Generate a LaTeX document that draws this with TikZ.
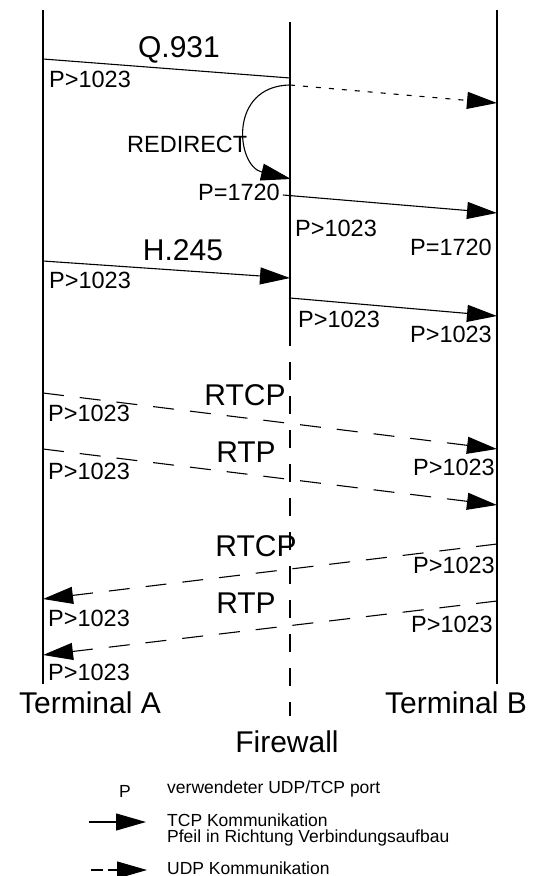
\documentclass[tikz,border=0pt]{standalone}
\usepackage{fontspec}
\setmainfont{Liberation Sans}
\usetikzlibrary{arrows.meta}

\newcommand{\biglbl}{\fontsize{30}{36}\selectfont}
\newcommand{\portlbl}{\fontsize{23.5}{28}\selectfont}
\newcommand{\leglbl}{\fontsize{17.5}{20}\selectfont}

\tikzset{
  lifeline/.style={line width=1.4pt},
  plainline/.style={line width=1.1pt},
  tcp/.style={plainline,-{Triangle[length=30pt,width=17pt]}},
  udp/.style={tcp,dash pattern=on 21pt off 16pt},
  setup/.style={tcp,dash pattern=on 5pt off 8pt},
  biglabel/.style={inner sep=0pt,font=\biglbl},
  portlabel/.style={inner sep=0pt,font=\portlbl},
  leglabel/.style={inner sep=0pt,font=\leglbl}
}

\begin{document}
\begin{tikzpicture}[x=1pt,y=-1pt]
    \useasboundingbox (0,0) rectangle (534,876);

    % lifelines
    \coordinate (Atop) at (43,10);   \coordinate (Abot) at (43,684);
    \coordinate (Btop) at (497,10);  \coordinate (Bbot) at (497,684);
    \coordinate (Ftop) at (290,22);  \coordinate (Fmid) at (290,328);
    \coordinate (Fbot) at (290,716);
    \draw[lifeline] (Atop) -- (Abot);
    \draw[lifeline] (Btop) -- (Bbot);
    \draw[lifeline] (Ftop) -- (Fmid);
    \draw[lifeline,dash pattern=on 18pt off 16pt] (Fmid) -- (Fbot);

    % Q.931 with redirect
    \coordinate (q1) at (43,59);   \coordinate (q2) at (290,78);
    \coordinate (r1) at (290,85);  \coordinate (r2) at (291,179);
    \coordinate (s1) at (290,85);  \coordinate (s2) at (497,103);
    \coordinate (c1) at (283,195); \coordinate (c2) at (497,213);
    \draw[plainline] (q1) -- (q2);
    \draw[tcp] (r1) .. controls (228,86) and (236,166) .. (r2);
    \draw[setup] (s1) -- (s2);
    \draw[tcp] (c1) -- (c2);

    % H.245
    \coordinate (h1) at (43,261);  \coordinate (h2) at (290,278);
    \coordinate (h3) at (290,298); \coordinate (h4) at (497,316);
    \draw[tcp] (h1) -- (h2);
    \draw[tcp] (h3) -- (h4);

    % RTCP / RTP, A to B and B to A
    \foreach \ya/\yb [count=\i] in {393/449,449/505} {
        \coordinate (ua\i) at (43,\ya);
        \coordinate (ub\i) at (497,\yb);
        \draw[udp] (ua\i) -- (ub\i);
      }
    \foreach \yb/\ya [count=\i] in {544/599,601/655} {
        \coordinate (vb\i) at (497,\yb);
        \coordinate (va\i) at (43,\ya);
        \draw[udp] (vb\i) -- (va\i);
      }

    % protocol labels
    \node[biglabel,anchor=base] (lq931) at (179,57) {Q.931};
    \node[biglabel,anchor=base] (lh245) at (183,260) {H.245};
    \node[biglabel,anchor=base] (lrtcpa) at (245,405) {RTCP};
    \node[biglabel,anchor=base] (lrtpa) at (246,462) {RTP};
    \node[biglabel,anchor=base] (lrtcpb) at (256,556) {RTCP};
    \node[biglabel,anchor=base] (lrtpb) at (246,613) {RTP};
    \node[portlabel,anchor=base west] (lredir) at (127,152) {REDIRECT};

    % port labels
    \foreach \x/\y [count=\i] in {49/87,295/236,49/288,298/327,48/421,48/479,48/626,48/680} {
        \node[portlabel,anchor=base west] (pw\i) at (\x,\y) {P>1023};
      }
    \foreach \x/\y [count=\i] in {492/342,495/475,495/573,493/632} {
        \node[portlabel,anchor=base east] (pe\i) at (\x,\y) {P>1023};
      }
    \node[portlabel,anchor=base east] (pfa) at (280,200) {P=1720};
    \node[portlabel,anchor=base east] (pfb) at (492,255) {P=1720};

    % parties
    \node[biglabel,anchor=base] (termA) at (90,713) {Terminal A};
    \node[biglabel,anchor=base] (termB) at (456,713) {Terminal B};
    \node[biglabel,anchor=base] (fw) at (287,752) {Firewall};

    % legend
    \node[leglabel,anchor=base] (legp) at (125,797) {P};
    \node[leglabel,anchor=base west] (legport) at (167,793) {verwendeter UDP/TCP port};
    \node[leglabel,anchor=base west] (legtcp) at (167,826) {TCP Kommunikation};
    \node[leglabel,anchor=base west] (legdir) at (167,842) {Pfeil in Richtung Verbindungsaufbau};
    \node[leglabel,anchor=base west] (legudp) at (167,874) {UDP Kommunikation};
    \coordinate (lt1) at (89,822);  \coordinate (lt2) at (146,822);
    \coordinate (lu1) at (91,870);  \coordinate (lu2) at (147,870);
    \draw[tcp] (lt1) -- (lt2);
    \draw[tcp,dash pattern=on 12pt off 5pt] (lu1) -- (lu2);
  \end{tikzpicture}
\end{document}
